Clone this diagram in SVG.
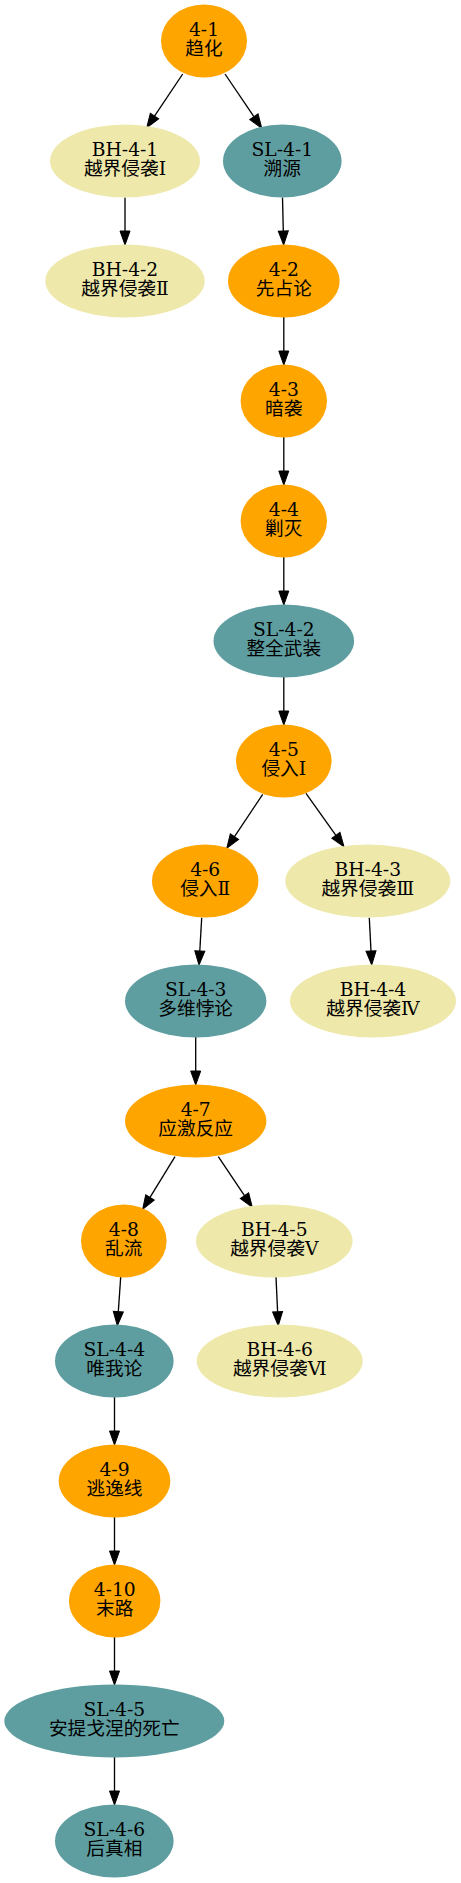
<svg xmlns="http://www.w3.org/2000/svg" width="461" height="1883" viewBox="0 0 461 1883">
<style>
.o{fill:#ffa500}
.k{fill:#eee8aa}
.t{fill:#5f9ea0}
text{font-family:"DejaVu Serif","Noto Sans CJK SC",serif;font-size:18.7px;text-anchor:middle;fill:#000}
.e line{stroke:#000;stroke-width:1.33;marker-end:url(#ah)}
</style>
<defs>
<marker id="ah" markerUnits="userSpaceOnUse" markerWidth="16" markerHeight="12" refX="0" refY="5" orient="auto" overflow="visible">
<path d="M0,0 L14,5 L0,10 Z" fill="#000" stroke="#000" stroke-width="1"/>
</marker>
</defs>
<rect width="461" height="1883" fill="#fff"/>
<g id="edges" class="e">
<line x1="182.7" y1="74" x2="154.5" y2="116.1"/>
<line x1="225" y1="74" x2="253.9" y2="116.7"/>
<line x1="125" y1="197.5" x2="125" y2="231"/>
<line x1="282.5" y1="197.5" x2="283.3" y2="231"/>
<line x1="283.8" y1="317" x2="283.8" y2="351"/>
<line x1="283.8" y1="437" x2="283.8" y2="471"/>
<line x1="283.8" y1="557" x2="283.8" y2="591"/>
<line x1="283.8" y1="677" x2="283.8" y2="711"/>
<line x1="262.7" y1="794.3" x2="234.5" y2="836.7"/>
<line x1="306" y1="793.3" x2="335.9" y2="835.3"/>
<line x1="201.7" y1="917.7" x2="199.8" y2="951"/>
<line x1="369.3" y1="917.7" x2="371" y2="951"/>
<line x1="195.7" y1="1037" x2="195.7" y2="1071"/>
<line x1="175" y1="1156.7" x2="150" y2="1197.4"/>
<line x1="218.3" y1="1156.7" x2="244.5" y2="1195.7"/>
<line x1="120.7" y1="1277" x2="118.3" y2="1311.7"/>
<line x1="276" y1="1277" x2="277.6" y2="1311.7"/>
<line x1="114.5" y1="1397" x2="114.5" y2="1431"/>
<line x1="114.5" y1="1517" x2="114.5" y2="1551"/>
<line x1="114.5" y1="1637" x2="114.5" y2="1671"/>
<line x1="114.5" y1="1757" x2="114.5" y2="1791"/>
</g>
<g id="n4-1"><ellipse class="o" cx="204" cy="41" rx="43" ry="36.5"/><text x="204" y="36.3">4-1</text><text x="204" y="55.3">趋化</text></g>
<g id="nBH-4-1"><ellipse class="k" cx="125" cy="161" rx="75" ry="36.5"/><text x="125" y="156.3">BH-4-1</text><text x="125" y="175.3">越界侵袭Ⅰ</text></g>
<g id="nSL-4-1"><ellipse class="t" cx="282.3" cy="161" rx="59.3" ry="36.5"/><text x="282.3" y="156.3">SL-4-1</text><text x="282.3" y="175.3">溯源</text></g>
<g id="nBH-4-2"><ellipse class="k" cx="125" cy="281" rx="79.7" ry="36.5"/><text x="125" y="276.3">BH-4-2</text><text x="125" y="295.3">越界侵袭Ⅱ</text></g>
<g id="n4-2"><ellipse class="o" cx="283.8" cy="281" rx="55.8" ry="36.5"/><text x="283.8" y="276.3">4-2</text><text x="283.8" y="295.3">先占论</text></g>
<g id="n4-3"><ellipse class="o" cx="283.8" cy="401" rx="43.2" ry="36.5"/><text x="283.8" y="396.3">4-3</text><text x="283.8" y="415.3">暗袭</text></g>
<g id="n4-4"><ellipse class="o" cx="283.8" cy="521" rx="43.2" ry="36.5"/><text x="283.8" y="516.3">4-4</text><text x="283.8" y="535.3">剿灭</text></g>
<g id="nSL-4-2"><ellipse class="t" cx="283.8" cy="641" rx="70.3" ry="36.5"/><text x="283.8" y="636.3">SL-4-2</text><text x="283.8" y="655.3">整全武装</text></g>
<g id="n4-5"><ellipse class="o" cx="283.8" cy="761" rx="47.8" ry="36.5"/><text x="283.8" y="756.3">4-5</text><text x="283.8" y="775.3">侵入Ⅰ</text></g>
<g id="n4-6"><ellipse class="o" cx="205.2" cy="881" rx="53.2" ry="36.5"/><text x="205.2" y="876.3">4-6</text><text x="205.2" y="895.3">侵入Ⅱ</text></g>
<g id="nBH-4-3"><ellipse class="k" cx="367.8" cy="881" rx="82.5" ry="36.5"/><text x="367.8" y="876.3">BH-4-3</text><text x="367.8" y="895.3">越界侵袭Ⅲ</text></g>
<g id="nSL-4-3"><ellipse class="t" cx="195.7" cy="1001" rx="70.7" ry="36.5"/><text x="195.7" y="996.3">SL-4-3</text><text x="195.7" y="1015.3">多维悖论</text></g>
<g id="nBH-4-4"><ellipse class="k" cx="373" cy="1001" rx="83" ry="36.5"/><text x="373" y="996.3">BH-4-4</text><text x="373" y="1015.3">越界侵袭Ⅳ</text></g>
<g id="n4-7"><ellipse class="o" cx="195.7" cy="1121" rx="70.7" ry="36.5"/><text x="195.7" y="1116.3">4-7</text><text x="195.7" y="1135.3">应激反应</text></g>
<g id="n4-8"><ellipse class="o" cx="123.8" cy="1241" rx="42.8" ry="36.5"/><text x="123.8" y="1236.3">4-8</text><text x="123.8" y="1255.3">乱流</text></g>
<g id="nBH-4-5"><ellipse class="k" cx="274.3" cy="1241" rx="78.3" ry="36.5"/><text x="274.3" y="1236.3">BH-4-5</text><text x="274.3" y="1255.3">越界侵袭Ⅴ</text></g>
<g id="nSL-4-4"><ellipse class="t" cx="114.3" cy="1361" rx="59.3" ry="36.5"/><text x="114.3" y="1356.3">SL-4-4</text><text x="114.3" y="1375.3">唯我论</text></g>
<g id="nBH-4-6"><ellipse class="k" cx="279.7" cy="1361" rx="83" ry="36.5"/><text x="279.7" y="1356.3">BH-4-6</text><text x="279.7" y="1375.3">越界侵袭Ⅵ</text></g>
<g id="n4-9"><ellipse class="o" cx="114.5" cy="1481" rx="55.8" ry="36.5"/><text x="114.5" y="1476.3">4-9</text><text x="114.5" y="1495.3">逃逸线</text></g>
<g id="n4-10"><ellipse class="o" cx="114.7" cy="1601" rx="45.7" ry="36.5"/><text x="114.7" y="1596.3">4-10</text><text x="114.7" y="1615.3">末路</text></g>
<g id="nSL-4-5"><ellipse class="t" cx="114.3" cy="1721" rx="110" ry="36.5"/><text x="114.3" y="1716.3">SL-4-5</text><text x="114.3" y="1735.3">安提戈涅的死亡</text></g>
<g id="nSL-4-6"><ellipse class="t" cx="114.3" cy="1841" rx="59.3" ry="36.5"/><text x="114.3" y="1836.3">SL-4-6</text><text x="114.3" y="1855.3">后真相</text></g>
</svg>
